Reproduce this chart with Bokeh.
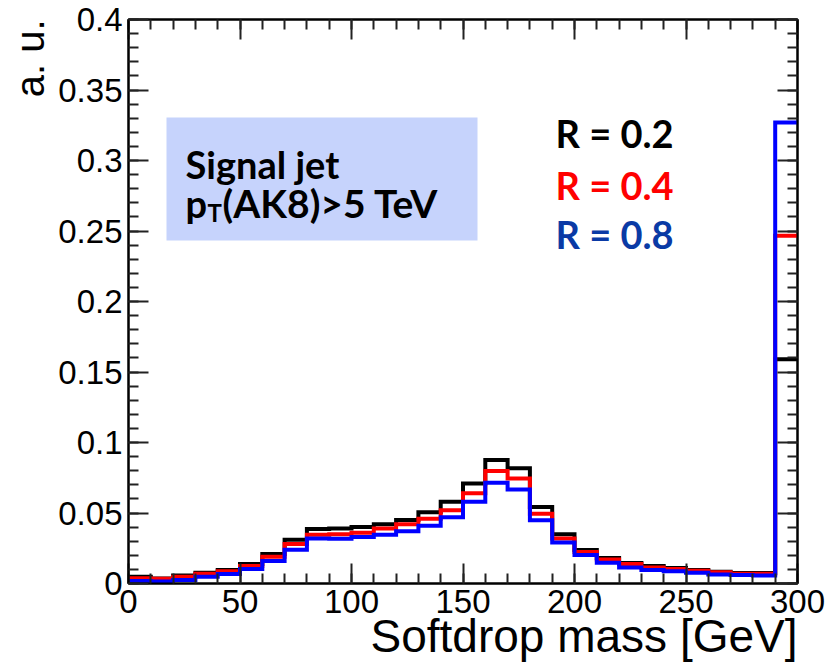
import numpy as np
from bokeh.plotting import figure
from bokeh.models import (Range1d, LinearAxis, SingleIntervalTicker, NumeralTickFormatter,
                          BoxAnnotation, Label, Title)
from bokeh.embed import file_html
from bokeh.resources import INLINE

# ---------------- data ----------------
bin_edges = list(range(0, 301, 10))  # Softdrop mass [GeV]
r02_black = [0.0048, 0.0035, 0.0057, 0.0076, 0.0095, 0.0138, 0.021, 0.031, 0.0386, 0.039,
             0.040, 0.042, 0.045, 0.0505, 0.058, 0.071, 0.0876, 0.0817, 0.0543, 0.035,
             0.0238, 0.018, 0.0145, 0.0124, 0.011, 0.0095, 0.0083, 0.0074, 0.0074, 0.159]
r04_red = [0.0038, 0.0033, 0.0048, 0.0069, 0.0086, 0.0124, 0.019, 0.028, 0.0345, 0.035,
           0.036, 0.039, 0.042, 0.046, 0.052, 0.064, 0.0798, 0.0745, 0.0495, 0.032,
           0.0224, 0.017, 0.0138, 0.0114, 0.0102, 0.009, 0.0079, 0.0069, 0.0069, 0.2466]
r08_blue = [0.0017, 0.0015, 0.0024, 0.0048, 0.0067, 0.0102, 0.016, 0.024, 0.0319, 0.0317,
            0.033, 0.0345, 0.037, 0.041, 0.047, 0.058, 0.0714, 0.0667, 0.0448, 0.029,
            0.0202, 0.0148, 0.0114, 0.0095, 0.0086, 0.0076, 0.0064, 0.006, 0.0057, 0.327]
series_labels = ["R = 0.2", "R = 0.4", "R = 0.8"]
x_title = "Softdrop mass [GeV]"
y_title = "a. u."

# ---------------- layout ----------------
W, H = 827, 664
FL, FR, FT, FB = 128, 797, 19, 583  # frame pixel edges
XMIN, XMAX, YMIN, YMAX = 0, 300, 0, 0.4


def dx(px):
    return XMIN + (px - FL) / (FR - FL) * (XMAX - XMIN)


def dy(py):
    return YMIN + (FB - py) / (FB - FT) * (YMAX - YMIN)


p = figure(width=W, height=H, output_backend="svg", toolbar_location=None,
           x_range=Range1d(XMIN, XMAX), y_range=Range1d(YMIN, YMAX),
           min_border_left=FL, min_border_right=W - FR,
           min_border_top=FT, min_border_bottom=H - FB,
           x_axis_location=None, y_axis_location=None)
p.xgrid.visible = False
p.ygrid.visible = False
p.outline_line_color = "black"
p.outline_line_width = 2
p.background_fill_color = "white"
p.border_fill_color = "white"

FONT = "Liberation Sans"


def make_axis(kind, labels):
    if kind == "x":
        ax = LinearAxis(ticker=SingleIntervalTicker(interval=50, num_minor_ticks=5))
    else:
        ax = LinearAxis(ticker=SingleIntervalTicker(interval=0.05, num_minor_ticks=5),
                        formatter=NumeralTickFormatter(format="0.[00]"))
    ax.major_tick_in = 20
    ax.major_tick_out = 0
    ax.minor_tick_in = 10
    ax.minor_tick_out = 0
    ax.major_tick_line_width = 2
    ax.minor_tick_line_width = 2
    ax.major_tick_line_color = "#222222"
    ax.minor_tick_line_color = "#222222"
    ax.axis_line_width = 2
    ax.axis_line_color = "black"
    if labels:
        ax.major_label_text_font = FONT
        ax.major_label_text_font_size = "33px"
        ax.major_label_text_color = "black"
        ax.major_label_standoff = 6
    else:
        ax.major_label_text_font_size = "1px"
        ax.major_label_text_color = None
        ax.major_label_standoff = 0
    return ax


p.add_layout(make_axis("x", True), "below")
p.add_layout(make_axis("y", True), "left")
p.add_layout(make_axis("x", False), "above")
p.add_layout(make_axis("y", False), "right")


def make_title(text, size, standoff):
    t = Title(text=text, align="right", text_font=FONT, text_font_size=size,
              text_font_style="normal", text_color="black")
    try:
        t.standoff = standoff
    except Exception:
        t.standoff = 0
    return t


p.add_layout(make_title(x_title, "46px", -15), "below")
p.add_layout(make_title(y_title, "40px", 8), "left")


# ---------------- histograms ----------------
def outline(edges, vals):
    xs = np.repeat(np.asarray(edges, dtype=float), 2)
    ys = np.concatenate([[0.0], np.repeat(np.asarray(vals, dtype=float), 2), [0.0]])
    return xs[:-1], ys[:-1]


for vals, col in [(r02_black, "#000000"), (r04_red, "#ff0000"), (r08_blue, "#0000ff")]:
    xs, ys = outline(bin_edges, vals)
    p.line(xs, ys, line_color=col, line_width=4, line_join="miter")

# ---------------- annotations ----------------
p.add_layout(BoxAnnotation(left=dx(166), right=dx(477), top=dy(117), bottom=dy(240),
                           fill_color="#c6d3fc", fill_alpha=1.0, line_color=None))

BFONT = "Lato"


def blabel(px, py, text, size="38px", color="black"):
    p.add_layout(Label(x=dx(px), y=dy(py), text=text, text_font=BFONT,
                       text_font_style="bold", text_font_size=size, text_color=color,
                       text_baseline="alphabetic", text_align="left"))


blabel(185, 163, "Signal jet")
blabel(185, 202, "p")
blabel(207, 212, "T", size="24px")
blabel(222, 202, "(AK8)>5 TeV", size="39px")

for lab, col, base in zip(series_labels, ["#000000", "#ff0000", "#0a3aa5"], [132, 184, 233]):
    blabel(555, base, lab, color=col)

open("out.html", "w").write(file_html(p, INLINE))
